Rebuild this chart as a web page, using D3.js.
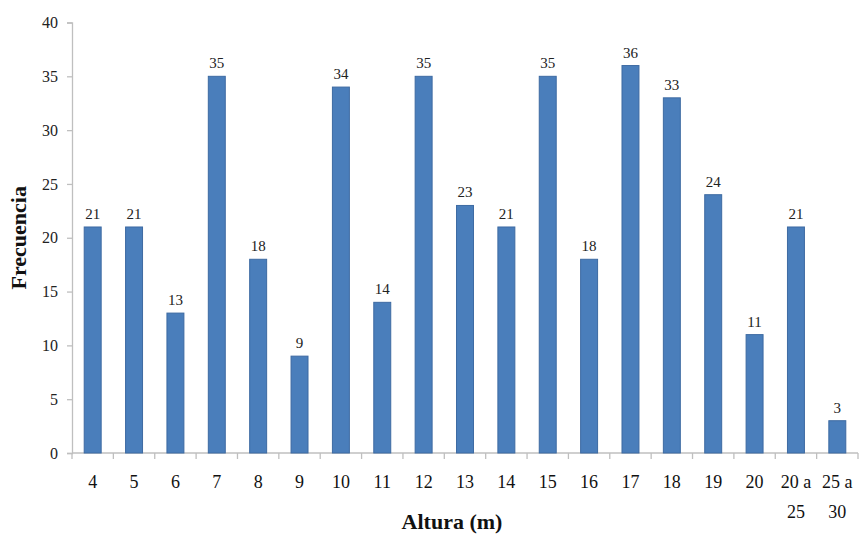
<!DOCTYPE html>
<html>
<head>
<meta charset="utf-8">
<script src="https://cdn.jsdelivr.net/npm/d3@7"></script>
<style>
  html, body { margin: 0; padding: 0; background: #fff; }
  svg { display: block; }
  svg text { font-family: "Liberation Serif", "Times New Roman", serif; }
</style>
</head>
<body>
<svg id="chart" width="861" height="535"></svg>
<script>
// Height classes (m) and the number of trees in each
const categories = ["4", "5", "6", "7", "8", "9", "10", "11", "12", "13", "14", "15", "16", "17", "18", "19", "20", "20 a 25", "25 a 30"];
const frequencies = [21, 21, 13, 35, 18, 9, 34, 14, 35, 23, 21, 35, 18, 36, 33, 24, 11, 21, 3];
const yTicks = [0, 5, 10, 15, 20, 25, 30, 35, 40];

const serif = "'Liberation Serif', 'Times New Roman', serif";
const svg = d3.select("#chart").attr("font-family", serif);
const margin = { left: 72, right: 3, top: 22.5, bottom: 82 };
const W = 861, H = 535;

const x = d3.scaleBand()
  .domain(categories)
  .range([margin.left, W - margin.right])
  .paddingInner(0.59)
  .paddingOuter(0.295);

const y = d3.scaleLinear()
  .domain([0, 40])
  .range([H - margin.bottom, margin.top]);

const axisColor = "#bfbfbf";

// Y axis
const yAxis = svg.append("g")
  .attr("transform", `translate(${margin.left},0)`)
  .call(d3.axisLeft(y).tickValues(yTicks).tickSize(5).tickPadding(9))
  .attr("font-family", serif);
yAxis.select(".domain").attr("stroke", axisColor).attr("stroke-width", 1.3);
yAxis.selectAll(".tick line").attr("stroke", axisColor).attr("stroke-width", 1.3);
yAxis.selectAll(".tick text")
  .attr("font-size", 16).attr("fill", "#222");

// X axis: ticks at category boundaries
const step = x.step();
const bounds = d3.range(categories.length + 1).map(i => margin.left + i * step);
const xg = svg.append("g");
xg.append("line")
  .attr("x1", margin.left).attr("x2", bounds[bounds.length - 1])
  .attr("y1", y(0)).attr("y2", y(0))
  .attr("stroke", axisColor).attr("stroke-width", 1.3);
xg.selectAll("line.tk").data(bounds).join("line")
  .attr("class", "tk")
  .attr("x1", d => d).attr("x2", d => d)
  .attr("y1", y(0)).attr("y2", y(0) + 6)
  .attr("stroke", axisColor).attr("stroke-width", 1.3);

// Category labels (ranges wrap onto two lines)
const labels = xg.selectAll("text.cat").data(categories).join("text")
  .attr("class", "cat")
  .attr("text-anchor", "middle")
  .attr("font-size", 18)
  .attr("fill", "#111");
labels.each(function(d) {
  const t = d3.select(this);
  const cx = x(d) + x.bandwidth() / 2;
  const cut = d.lastIndexOf(" ");
  const parts = d.includes(" a ") ? [d.slice(0, cut), d.slice(cut + 1)] : [d];
  parts.forEach((p, i) => {
    t.append("tspan").attr("x", cx).attr("y", y(0) + 35 + i * 30).text(p);
  });
});

// Bars
svg.append("g").selectAll("rect").data(frequencies).join("rect")
  .attr("x", (d, i) => x(categories[i]))
  .attr("width", x.bandwidth())
  .attr("y", d => y(d))
  .attr("height", d => y(0) - y(d))
  .attr("fill", "#4a7ebb")
  .attr("stroke", "#3d6aa2")
  .attr("stroke-width", 1);

// Value labels
svg.append("g").selectAll("text").data(frequencies).join("text")
  .attr("x", (d, i) => x(categories[i]) + x.bandwidth() / 2)
  .attr("y", d => y(d) - 8)
  .attr("text-anchor", "middle")
  .attr("font-size", 15)
  .attr("fill", "#222")
  .text(d => d);

// Axis titles
svg.append("text")
  .attr("x", 452).attr("y", 529)
  .attr("text-anchor", "middle")
  .attr("font-size", 22).attr("font-weight", "bold")
  .attr("fill", "#111")
  .text("Altura (m)");

svg.append("text")
  .attr("transform", `translate(26,${(y(0) + y(40)) / 2}) rotate(-90)`)
  .attr("text-anchor", "middle")
  .attr("font-size", 22).attr("font-weight", "bold")
  .attr("fill", "#111")
  .text("Frecuencia");
</script>
</body>
</html>
